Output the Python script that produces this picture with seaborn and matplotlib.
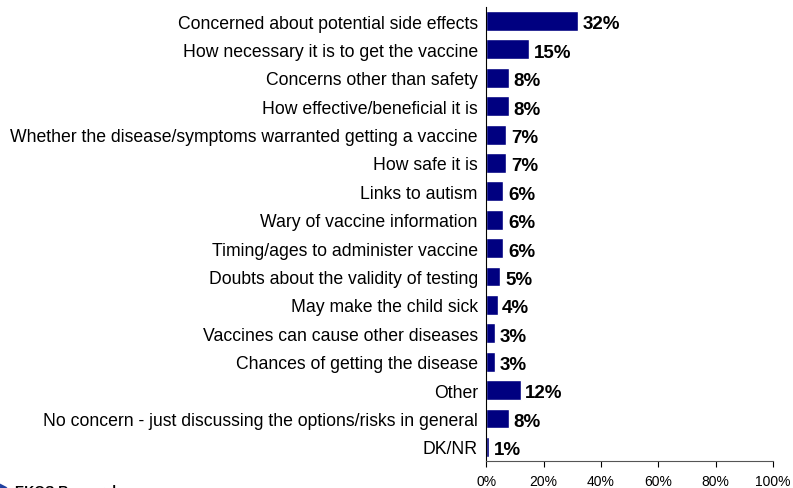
import matplotlib
matplotlib.use("Agg")
import matplotlib.pyplot as plt
import seaborn as sns
import pandas as pd

# -------------------------------
# data
# -------------------------------
reasons = [
    "Concerned about potential side effects",
    "How necessary it is to get the vaccine",
    "Concerns other than safety",
    "How effective/beneficial it is",
    "Whether the disease/symptoms warranted getting a vaccine",
    "How safe it is",
    "Links to autism",
    "Wary of vaccine information",
    "Timing/ages to administer vaccine",
    "Doubts about the validity of testing",
    "May make the child sick",
    "Vaccines can cause other diseases",
    "Chances of getting the disease",
    "Other",
    "No concern - just discussing the options/risks in general",
    "DK/NR",
]
percents = [32, 15, 8, 8, 7, 7, 6, 6, 6, 5, 4, 3, 3, 12, 8, 1]
xticks = [0, 20, 40, 60, 80, 100]

df = pd.DataFrame({"reason": reasons, "pct": percents})

sns.set_theme(style="white")
plt.rcParams["font.family"] = ["Liberation Sans", "DejaVu Sans"]

fig = plt.figure(figsize=(7.93, 4.89), dpi=100)
ax = fig.add_axes([0.613, 0.055, 0.362, 0.929])

sns.barplot(data=df, x="pct", y="reason", color="#000080", saturation=1,
            width=0.7, ax=ax)

for i, v in enumerate(percents):
    ax.text(v + 1.6, i + 0.1, f"{v}%", va="center", ha="left",
            fontsize=13.5, fontweight="bold", color="black")

ax.set_xlim(0, 100)
ax.set_ylim(len(reasons) - 0.5, -0.5)
ax.set_xticks(xticks)
ax.set_xticklabels([f"{t}%" for t in xticks], fontsize=10)
ax.set_xlabel("")
ax.set_ylabel("")
ax.tick_params(axis="y", length=0, labelsize=12.7, pad=6, colors="black")
ax.tick_params(axis="x", length=4, width=0.8, direction="out", bottom=True,
               pad=5, colors="black")
for side in ["top", "right"]:
    ax.spines[side].set_visible(False)
for side in ["left", "bottom"]:
    ax.spines[side].set_color("black")
    ax.spines[side].set_linewidth(0.8)
ax.spines["bottom"].set_color("#555555")
ax.grid(False)

# footer, clipped at the bottom edge
fig.text(0.0, 0.004, "\u25b6", fontsize=7, color="#1f3f9f", va="center")
fig.text(0.019, 0.009, "EKOS Research", fontsize=10, fontweight="bold",
         color="black", va="top")

fig.savefig("out.png", dpi=100)
